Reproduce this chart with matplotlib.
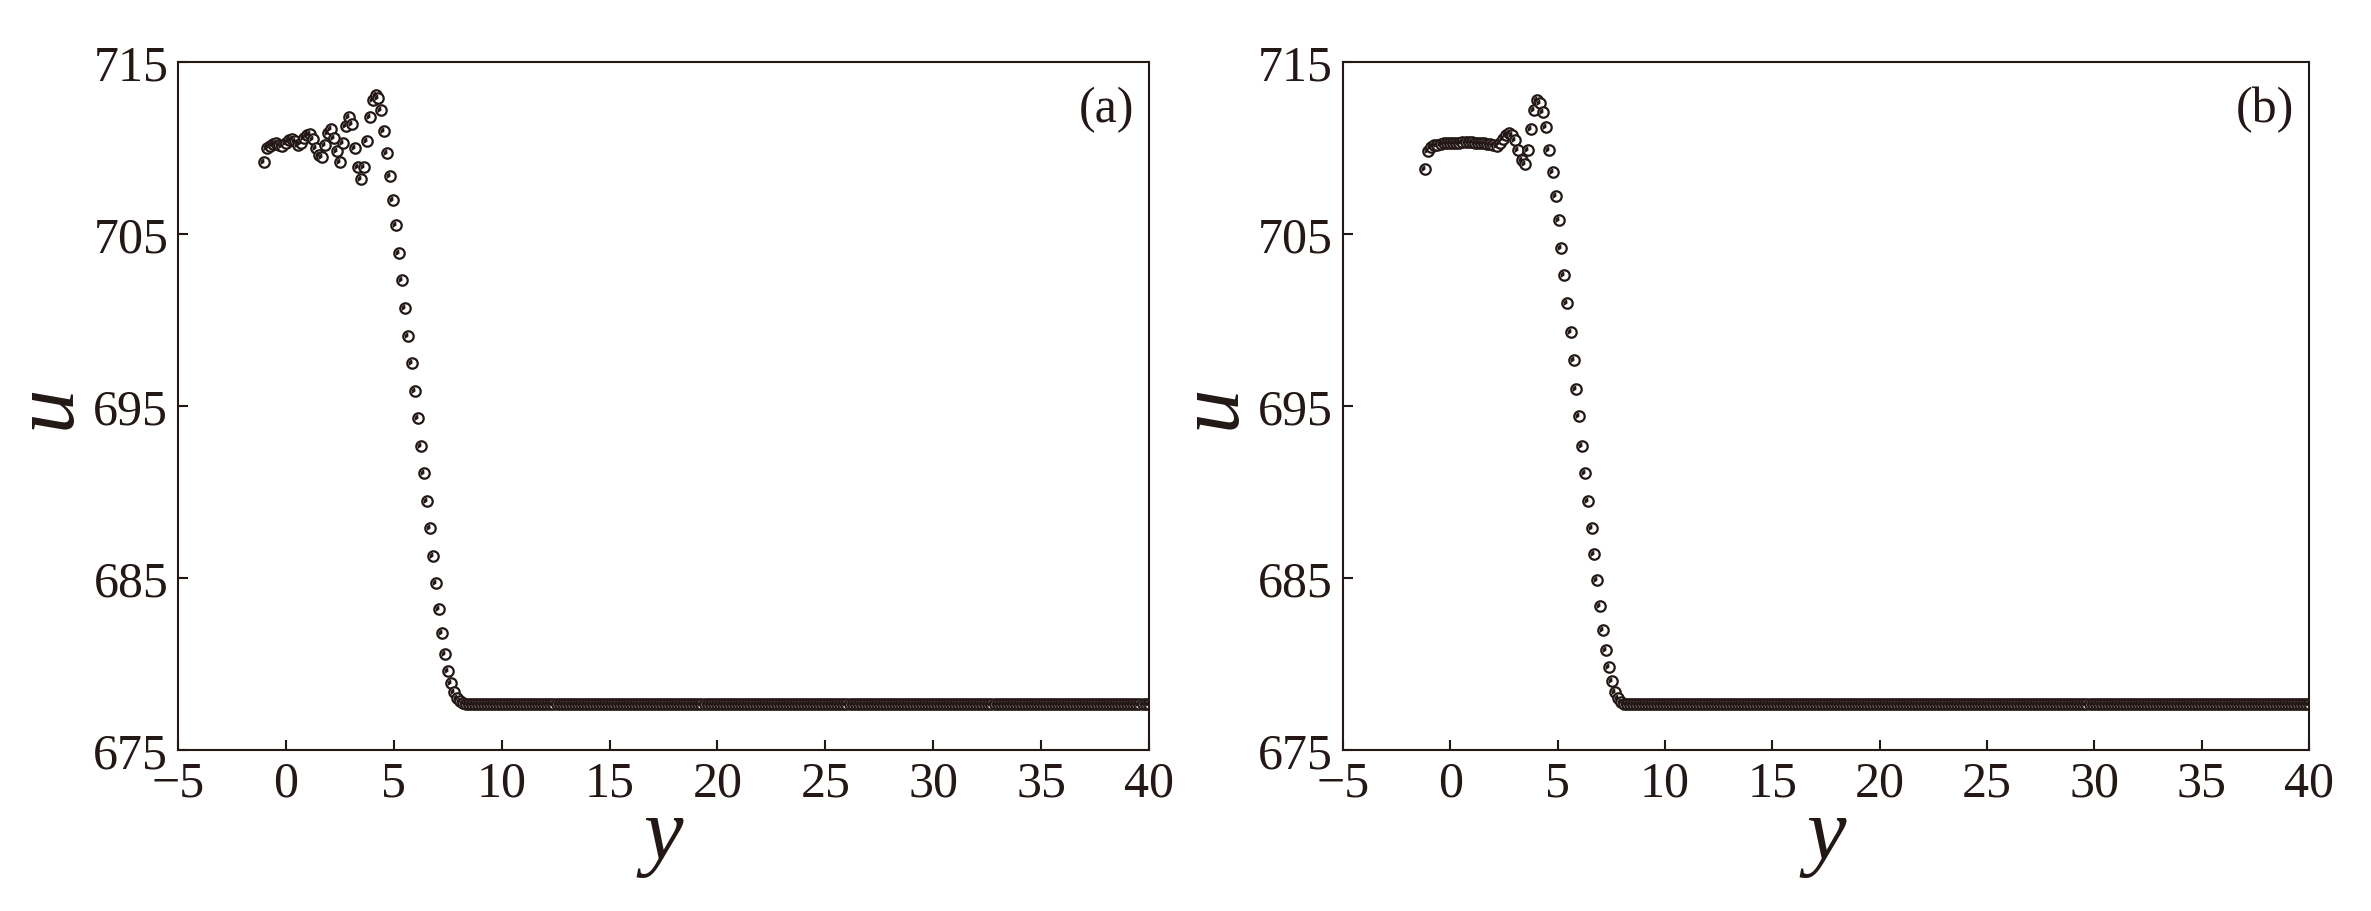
import numpy as np
import matplotlib.pyplot as plt
from matplotlib.path import Path

plt.rcParams['font.family'] = ['Liberation Serif', 'DejaVu Serif']

# panel (a): oscillating head + descent
a_head_y = [-1.00, -0.86, -0.72, -0.58, -0.44, -0.30, -0.16, -0.02, 0.12, 0.26,
            0.40, 0.54, 0.68, 0.82, 0.96, 1.10, 1.24, 1.38, 1.52, 1.66,
            1.80, 1.94, 2.08, 2.22, 2.36, 2.50, 2.64, 2.78, 2.92, 3.06,
            3.20, 3.34, 3.48, 3.62, 3.76, 3.90, 4.04, 4.16]
a_head_u = [709.2, 710.0, 710.1, 710.25, 710.3, 710.2, 710.1, 710.3, 710.45, 710.55,
            710.4, 710.15, 710.3, 710.6, 710.75, 710.8, 710.5, 710.0, 709.6, 709.5,
            710.2, 710.9, 711.1, 710.6, 709.8, 709.2, 710.3, 711.3, 711.8, 711.4,
            710.0, 708.9, 708.2, 708.9, 710.4, 711.8, 712.8, 713.1]
a_drop_y = [4.28, 4.42, 4.56, 4.70, 4.84, 4.98, 5.12, 5.26, 5.40, 5.54,
            5.68, 5.82, 5.96, 6.10, 6.24, 6.38, 6.52, 6.66, 6.80, 6.94,
            7.08, 7.22, 7.36, 7.50, 7.64, 7.78, 7.92, 8.06, 8.20]
a_drop_u = [712.9, 712.2, 711.0, 709.7, 708.4, 707.0, 705.5, 703.9, 702.3, 700.7,
            699.1, 697.5, 695.9, 694.3, 692.7, 691.1, 689.5, 687.9, 686.3, 684.7,
            683.2, 681.8, 680.6, 679.6, 678.9, 678.4, 678.05, 677.85, 677.75]

# panel (b)
b_head_y = [-1.18, -1.03, -0.89, -0.74, -0.60, -0.45, -0.31, -0.16, -0.02, 0.13,
            0.27, 0.42, 0.56, 0.71, 0.85, 1.00, 1.14, 1.29, 1.43, 1.58,
            1.72, 1.87, 2.01, 2.16, 2.30, 2.45, 2.59, 2.74, 2.88, 3.03,
            3.17, 3.32, 3.46, 3.61, 3.75, 3.90, 4.04]
b_head_u = [708.8, 709.85, 710.05, 710.15, 710.2, 710.25, 710.28, 710.3, 710.3, 710.32,
            710.32, 710.32, 710.33, 710.33, 710.33, 710.33, 710.32, 710.3, 710.3, 710.28,
            710.25, 710.22, 710.15, 710.1, 710.3, 710.55, 710.75, 710.85, 710.75, 710.45,
            709.9, 709.3, 709.1, 709.9, 711.1, 712.2, 712.8]
b_drop_y = [4.18, 4.32, 4.46, 4.62, 4.77, 4.92, 5.05, 5.16, 5.29, 5.45,
            5.62, 5.76, 5.88, 6.01, 6.13, 6.27, 6.44, 6.58, 6.70, 6.84,
            6.97, 7.10, 7.24, 7.38, 7.52, 7.66, 7.80, 7.94]
b_drop_u = [712.6, 712.1, 711.2, 709.9, 708.6, 707.2, 705.8, 704.2, 702.6, 701.0,
            699.3, 697.7, 696.0, 694.4, 692.7, 691.1, 689.5, 687.9, 686.4, 684.9,
            683.4, 682.0, 680.8, 679.8, 679.0, 678.4, 678.0, 677.8]

# flat far field, same grid step as above
tail_step = 0.14
tail_u = 677.7
a_tail_y = np.arange(8.34, 40.0 + 1e-9, tail_step)
b_tail_y = np.arange(8.08, 40.0 + 1e-9, tail_step)

panels = [
    ('(a)', a_head_y + a_drop_y + list(a_tail_y),
     a_head_u + a_drop_u + [tail_u] * len(a_tail_y)),
    ('(b)', b_head_y + b_drop_y + list(b_tail_y),
     b_head_u + b_drop_u + [tail_u] * len(b_tail_y)),
]

dark = '#231815'
wedge = Path.wedge(95, 215)

fig = plt.figure(figsize=(23.71, 9.12), dpi=100)
rects = [[0.0751, 0.1765, 0.4095, 0.7544], [0.5664, 0.1765, 0.4074, 0.7544]]

for rect, (tag, ys, us) in zip(rects, panels):
    ax = fig.add_axes(rect)
    ax.plot(ys, us, 'o', ms=7.5, mfc='white', mec=dark, mew=1.6, ls='none')
    ax.plot(ys, us, marker=wedge, ms=5.6, color=dark, mec='none', ls='none')

    ax.set_xlim(-5, 40)
    ax.set_ylim(675, 715)
    ax.set_xticks(range(-5, 41, 5))
    ax.set_yticks(range(675, 716, 10))
    ax.tick_params(direction='in', length=7, width=1.5, labelsize=36,
                   colors=dark, pad=7, top=False, right=False)
    for s in ax.spines.values():
        s.set_linewidth(1.5)
        s.set_color(dark)

    # axis titles placed by centre
    ax.text(0.5, -0.125, 'y', transform=ax.transAxes, ha='center', va='center',
            fontsize=64, style='italic', color=dark)
    ax.text(-0.134, 0.5, 'u', transform=ax.transAxes, ha='center', va='center',
            rotation=90, fontsize=64, style='italic', color=dark)

    ax.text(0.985, 0.965, tag, transform=ax.transAxes, ha='right', va='top',
            fontsize=36, color=dark)

fig.savefig('out.png', dpi=100)
